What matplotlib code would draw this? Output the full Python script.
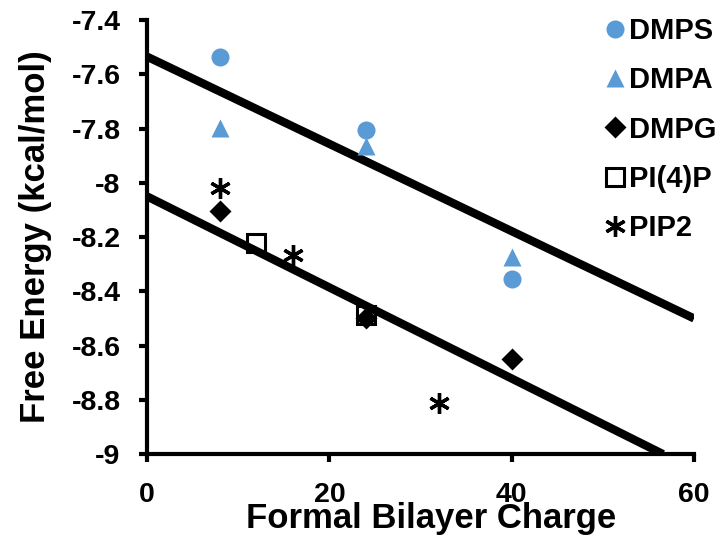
import numpy as np
import matplotlib.pyplot as plt

plt.rcParams['font.family'] = ['Liberation Sans', 'DejaVu Sans']
plt.rcParams['font.weight'] = 'bold'

# free energy vs formal bilayer charge
dmps_x = [8, 24, 40]
dmps_y = [-7.535, -7.807, -8.354]
dmpa_x = [8, 24, 40]
dmpa_y = [-7.797, -7.865, -8.273]
dmpg_x = [8, 24, 40]
dmpg_y = [-8.103, -8.497, -8.648]
pi4p_x = [12, 24]
pi4p_y = [-8.222, -8.489]
pip2_x = [8, 16, 32]
pip2_y = [-8.018, -8.266, -8.813]

# fit lines (start, end)
upper_x = [0, 60]
upper_y = [-7.535, -8.50]
lower_x = [0, 56.6]
lower_y = [-8.05, -9.0]

blue = '#5b9bd5'

fig = plt.figure(figsize=(7.17, 5.4), dpi=100)
ax = fig.add_axes([0.205, 0.159, 0.763, 0.804])

ax.plot(upper_x, upper_y, color='black', lw=6, solid_capstyle='butt', zorder=2)
ax.plot(lower_x, lower_y, color='black', lw=6, solid_capstyle='butt', zorder=2)

ax.plot(dmps_x, dmps_y, 'o', color=blue, ms=13, mec='none', label='DMPS', zorder=3)
ax.plot(dmpa_x, dmpa_y, '^', color=blue, ms=13, mec='none', label='DMPA', zorder=3)
ax.plot(dmpg_x, dmpg_y, 'D', color='black', ms=11, mec='none', label='DMPG', zorder=4)
ax.plot(pi4p_x, pi4p_y, 's', mfc='none', mec='black', mew=2.2, ms=13, label='PI(4)P', zorder=3)
ax.plot(pip2_x, pip2_y, marker=(6, 2, 0), ls='none', color='black', mew=2.4, ms=15,
        label='PIP2', zorder=3)

ax.set_xlim(0, 60)
ax.set_ylim(-9, -7.4)
ax.set_xticks([0, 20, 40, 60])
ax.set_yticks(np.arange(-9, -7.39, 0.2))
ax.set_yticklabels(['-9', '-8.8', '-8.6', '-8.4', '-8.2', '-8', '-7.8', '-7.6', '-7.4'])

for s in ['top', 'right']:
    ax.spines[s].set_visible(False)
for s in ['left', 'bottom']:
    ax.spines[s].set_linewidth(3)
ax.tick_params(direction='out', length=6, width=3, labelsize=20.5)
ax.tick_params(axis='y', pad=13)
ax.tick_params(axis='x', pad=14)

ax.set_xlabel('Formal Bilayer Charge', fontsize=25, fontweight='bold')
ax.xaxis.set_label_coords(0.52, -0.11, transform=ax.transAxes)
ax.xaxis.label.set_verticalalignment('top')
ax.set_ylabel('Free Energy (kcal/mol)', fontsize=25, fontweight='bold', labelpad=14)

leg = fig.legend(loc='upper left', bbox_to_anchor=(603 / 717, 1 - 17 / 540), frameon=False,
                 fontsize=21, handlelength=0.8, handletextpad=0.1, labelspacing=0.73,
                 borderpad=0, borderaxespad=0)

fig.savefig('out.png', dpi=100)
